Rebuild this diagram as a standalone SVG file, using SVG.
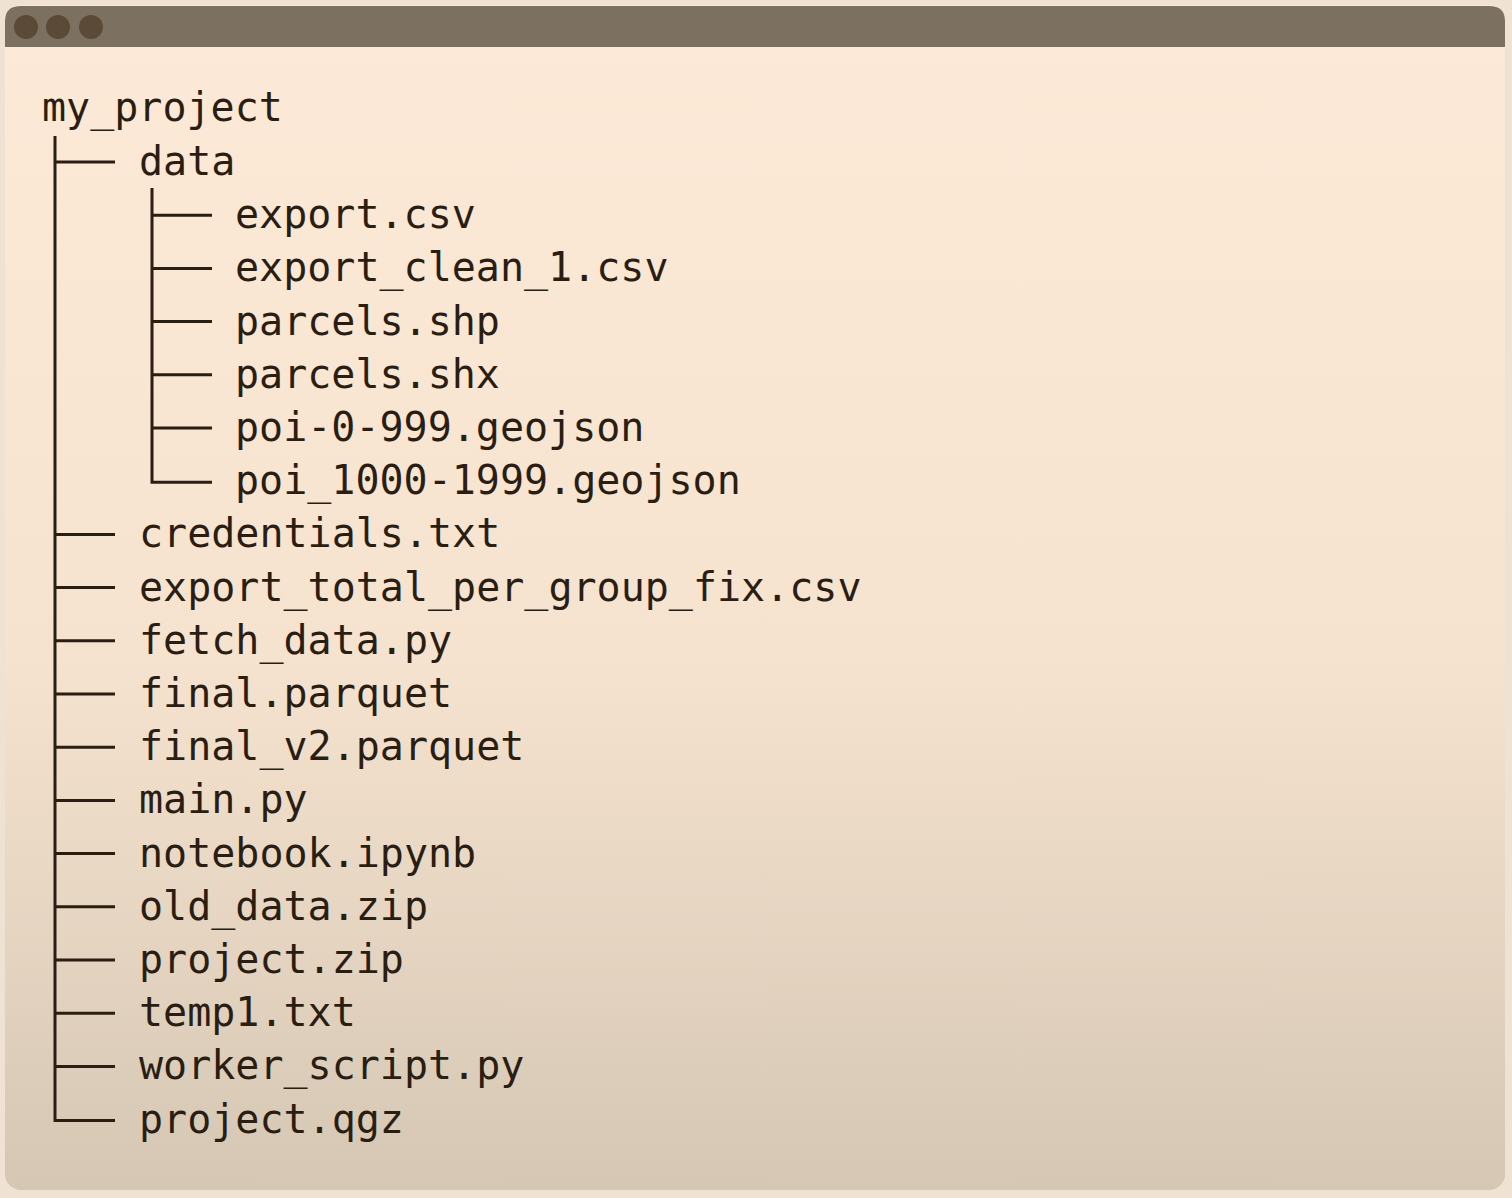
<svg xmlns="http://www.w3.org/2000/svg" width="1512" height="1198" viewBox="0 0 1512 1198">
<defs>
<linearGradient id="bg" x1="0" y1="0" x2="0" y2="1">
<stop offset="0" stop-color="#fce9d7"/>
<stop offset="0.55" stop-color="#f6e3cf"/>
<stop offset="1" stop-color="#d5c7b4"/>
</linearGradient>
<style>
.t{font-family:"DejaVu Sans Mono","Liberation Mono",monospace;font-size:40px;fill:#2a1e13}
.ln{stroke:#2a1e13;stroke-width:3;fill:none}
.dot{fill:#5b4a37}
</style>
</defs>
<rect x="0" y="0" width="1512" height="1198" fill="#efe2d2"/>
<rect x="5" y="5" width="1500" height="1185" rx="16" fill="url(#bg)"/>
<path d="M5,47 V21 Q5,6 21,6 H1489 Q1505,6 1505,21 V47 Z" fill="#7c7161"/>
<g id="titlebar-dots">
<circle class="dot" cx="26" cy="27" r="12"/>
<circle class="dot" cx="58" cy="27" r="12"/>
<circle class="dot" cx="91" cy="27" r="12"/>
</g>
<g id="connectors">
<path class="ln" d="M55,136 V1120.6 H115"/>
<path class="ln" d="M55,162 H115"/>
<path class="ln" d="M55,534.4 H115 M55,587.6 H115 M55,640.8 H115 M55,694 H115 M55,747.2 H115 M55,800.4 H115 M55,853.6 H115 M55,906.8 H115 M55,960 H115 M55,1013.2 H115 M55,1066.4 H115"/>
<path class="ln" d="M152,188 V482.2 H212"/>
<path class="ln" d="M152,215.2 H212 M152,268.4 H212 M152,321.6 H212 M152,374.8 H212 M152,428 H212"/>
</g>
<g id="my_project"><text class="t" x="42" y="121">my_project</text></g>
<g id="data"><text class="t" x="139" y="175">data</text></g>
<g id="export_csv"><text class="t" x="235" y="228.2">export.csv</text></g>
<g id="export_clean_1_csv"><text class="t" x="235" y="281.4">export_clean_1.csv</text></g>
<g id="parcels_shp"><text class="t" x="235" y="334.6">parcels.shp</text></g>
<g id="parcels_shx"><text class="t" x="235" y="387.8">parcels.shx</text></g>
<g id="poi_0_999"><text class="t" x="235" y="441">poi-0-999.geojson</text></g>
<g id="poi_1000_1999"><text class="t" x="235" y="494.2">poi_1000-1999.geojson</text></g>
<g id="credentials"><text class="t" x="139" y="547.4">credentials.txt</text></g>
<g id="export_total"><text class="t" x="139" y="600.6">export_total_per_group_fix.csv</text></g>
<g id="fetch_data"><text class="t" x="139" y="653.8">fetch_data.py</text></g>
<g id="final_parquet"><text class="t" x="139" y="707">final.parquet</text></g>
<g id="final_v2"><text class="t" x="139" y="760.2">final_v2.parquet</text></g>
<g id="main_py"><text class="t" x="139" y="813.4">main.py</text></g>
<g id="notebook"><text class="t" x="139" y="866.6">notebook.ipynb</text></g>
<g id="old_data"><text class="t" x="139" y="919.8">old_data.zip</text></g>
<g id="project_zip"><text class="t" x="139" y="973">project.zip</text></g>
<g id="temp1"><text class="t" x="139" y="1026.2">temp1.txt</text></g>
<g id="worker_script"><text class="t" x="139" y="1079.4">worker_script.py</text></g>
<g id="project_qgz"><text class="t" x="139" y="1132.6">project.qgz</text></g>
</svg>
